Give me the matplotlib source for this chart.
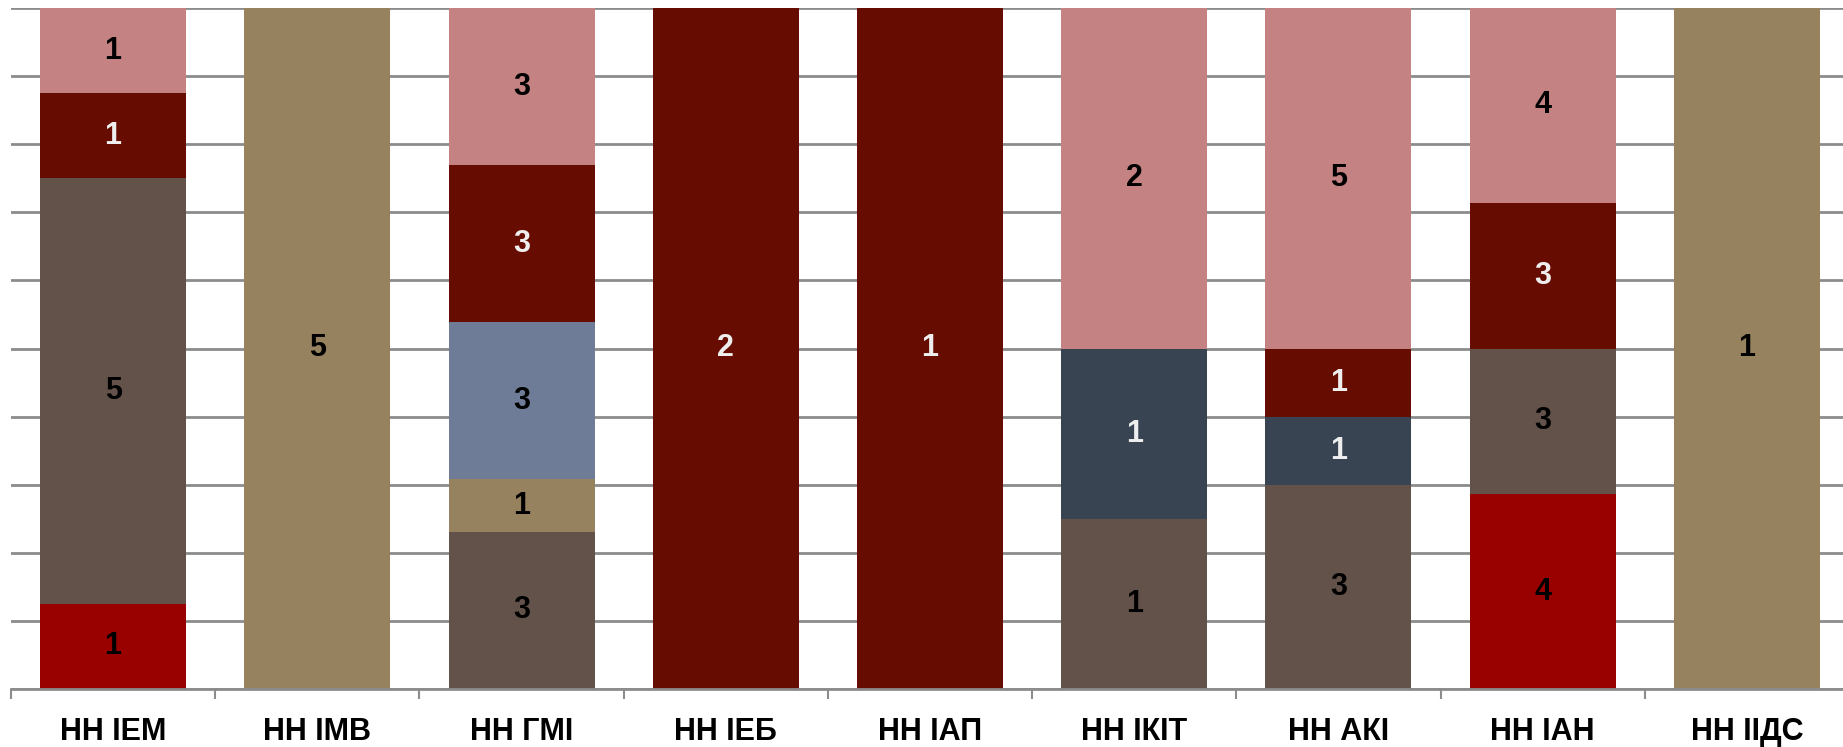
import matplotlib
matplotlib.use("Agg")
import matplotlib.pyplot as plt
import numpy as np

# categories and counts per group (bottom -> top in each bar)
categories = ["НН ІЕМ", "НН ІМВ", "НН ГМІ", "НН ІЕБ", "НН ІАП", "НН ІКІТ", "НН АКІ", "НН ІАН", "НН ІІДС"]
s_red      = [1, 0, 0, 0, 0, 0, 0, 4, 0]
s_brown    = [5, 0, 3, 0, 0, 1, 3, 3, 0]
s_tan      = [0, 5, 1, 0, 0, 0, 0, 0, 1]
s_bluegray = [0, 0, 3, 0, 0, 0, 0, 0, 0]
s_slate    = [0, 0, 0, 0, 0, 1, 1, 0, 0]
s_darkred  = [1, 0, 3, 2, 1, 0, 1, 3, 0]
s_pink     = [1, 0, 3, 0, 0, 2, 5, 4, 0]

series = [s_red, s_brown, s_tan, s_bluegray, s_slate, s_darkred, s_pink]
colors = ["#990000", "#635249", "#978260", "#6f7c97", "#394452", "#660c00", "#c48282"]
label_colors = ["black", "black", "black", "black", "#eeeeee", "#eeeeee", "black"]

plt.rcParams['font.family'] = ['Liberation Sans', 'DejaVu Sans']

fig = plt.figure(figsize=(18.43, 7.47), dpi=100)
W, H = 1843.0, 747.0
ax = fig.add_axes([11 / W, (H - 689) / H, (1849 - 11) / W, (689 - 8) / H])

data = np.array(series, dtype=float)
totals = data.sum(axis=0)
x = np.arange(len(categories))
bottom = np.zeros(len(categories))
for vals, col, lc in zip(data, colors, label_colors):
    frac = vals / totals
    ax.bar(x, frac, 0.715, bottom=bottom, color=col, zorder=2, linewidth=0)
    for xi, v, f, b in zip(x, vals, frac, bottom):
        if v > 0:
            ax.text(xi, b + f / 2, "%d" % v, ha="center", va="center",
                    fontsize=22, fontweight="bold", color=lc, zorder=3)
    bottom += frac

ax.set_xlim(-0.5, len(categories) - 0.5)
ax.set_ylim(0, 1)
ax.set_yticks(np.arange(0, 1.01, 0.1))
ax.yaxis.grid(True, color="#8c8c8c", linewidth=2, zorder=0)
ax.tick_params(axis="y", left=False, labelleft=False)

ax.set_xticks(x)
ax.set_xticklabels(categories, fontsize=22, fontweight="bold")
ax.tick_params(axis="x", which="major", length=0, pad=20)
ax.set_xticks(np.arange(-0.5, len(categories), 1.0), minor=True)
ax.tick_params(axis="x", which="minor", length=7, width=1.5, color="#8c8c8c")

for sp in ["top", "right", "left"]:
    ax.spines[sp].set_visible(False)
ax.spines["bottom"].set_color("#8c8c8c")
ax.spines["bottom"].set_linewidth(2)

plt.savefig("out.png", dpi=100)
